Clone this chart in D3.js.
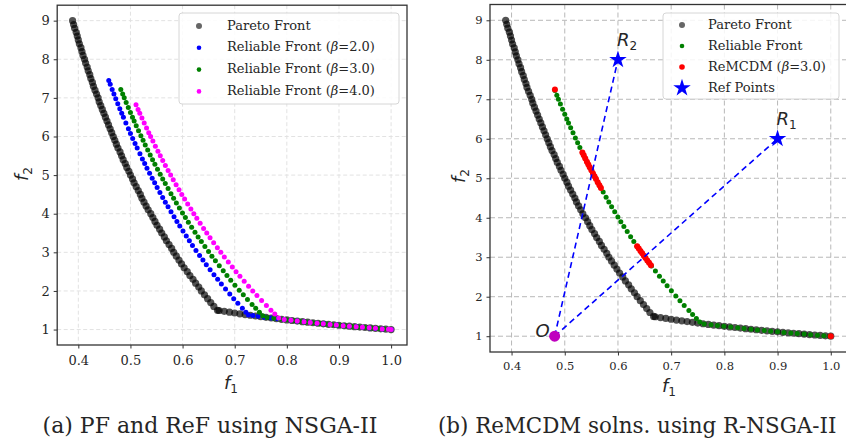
<!DOCTYPE html>
<html>
<head>
<meta charset="utf-8">
<script src="https://cdnjs.cloudflare.com/ajax/libs/d3/7.8.5/d3.min.js"></script>
<style>
  html, body { margin: 0; padding: 0; background: #fff; }
  svg { display: block; }
  text { font-family: "DejaVu Serif", serif; fill: #262626; }
  .math { font-family: "DejaVu Sans", sans-serif; font-style: italic; }
  .sub { font-style: normal; }
</style>
</head>
<body>
<svg id="chart" width="846" height="443"></svg>
<script>
// ---- data: [f1, f2] ----
const paretoFront = [
  [0.389,9.0],[0.391,8.9],[0.393,8.8],[0.396,8.7],[0.398,8.6],[0.400,8.5],[0.402,8.4],[0.405,8.3],
  [0.407,8.2],[0.409,8.1],[0.412,8.0],[0.414,7.9],[0.417,7.8],[0.419,7.7],[0.422,7.6],[0.424,7.5],
  [0.427,7.4],[0.429,7.3],[0.432,7.2],[0.435,7.1],[0.438,7.0],[0.440,6.9],[0.443,6.8],[0.446,6.7],
  [0.449,6.6],[0.452,6.5],[0.455,6.4],[0.458,6.3],[0.461,6.2],[0.464,6.1],[0.467,6.0],[0.470,5.9],
  [0.473,5.8],[0.476,5.7],[0.480,5.6],[0.483,5.5],[0.486,5.4],[0.490,5.3],[0.493,5.2],[0.497,5.1],
  [0.500,5.0],[0.504,4.9],[0.507,4.8],[0.511,4.7],[0.515,4.6],[0.519,4.5],[0.522,4.4],[0.526,4.3],
  [0.530,4.2],[0.534,4.1],[0.539,4.0],[0.543,3.9],[0.547,3.8],[0.551,3.7],[0.556,3.6],[0.560,3.5],
  [0.565,3.4],[0.569,3.3],[0.574,3.2],[0.579,3.1],[0.583,3.0],[0.588,2.9],[0.593,2.8],[0.598,2.7],
  [0.603,2.6],[0.609,2.5],[0.614,2.4],[0.620,2.3],[0.625,2.2],[0.631,2.1],[0.636,2.0],[0.642,1.9],
  [0.648,1.8],[0.654,1.7],[0.660,1.6],[0.667,1.5],
  [0.670,1.493],[0.680,1.471],[0.690,1.449],[0.700,1.429],[0.710,1.408],[0.720,1.389],[0.730,1.370],
  [0.740,1.351],[0.750,1.333],[0.760,1.316],[0.770,1.299],[0.780,1.282],[0.790,1.266],[0.800,1.250],
  [0.810,1.235],[0.820,1.220],[0.830,1.205],[0.840,1.190],[0.850,1.176],[0.860,1.163],[0.870,1.149],
  [0.880,1.136],[0.890,1.124],[0.900,1.111],[0.910,1.099],[0.920,1.087],[0.930,1.075],[0.940,1.064],
  [0.950,1.053],[0.960,1.042],[0.970,1.031],[0.980,1.020],[0.990,1.010],[1.000,1.000]
];
const reliableB2 = [
  [0.4584,7.45],[0.4612,7.35],[0.4649,7.22],[0.4683,7.10],[0.4718,6.98],[0.4757,6.85],[0.4796,6.72],
  [0.4833,6.60],[0.4865,6.50],[0.4912,6.35],[0.4961,6.20],[0.5000,6.08],[0.5043,5.95],[0.5088,5.82],
  [0.5129,5.70],[0.5182,5.55],[0.5229,5.42],[0.5273,5.30],[0.5317,5.18],[0.5367,5.05],[0.5417,4.92],
  [0.5464,4.80],[0.5512,4.68],[0.5565,4.55],[0.5618,4.42],[0.5669,4.30],[0.5721,4.18],[0.5778,4.05],
  [0.5836,3.92],[0.5891,3.80],[0.5946,3.68],[0.6008,3.55],[0.6071,3.42],[0.6130,3.30],[0.6190,3.18],
  [0.6257,3.05],[0.6326,2.92],[0.6390,2.80],[0.6455,2.68],[0.6528,2.55],[0.6602,2.42],[0.6673,2.30],
  [0.6744,2.18],[0.6824,2.05],[0.6905,1.92],[0.6981,1.80],[0.7060,1.68],[0.7147,1.55],[0.7215,1.45],
  [0.7264,1.38],[0.735,1.361],[0.745,1.342],[0.757,1.321],[0.770,1.299],[0.782,1.279],[0.795,1.258],
  [0.808,1.238],[0.820,1.220],[0.833,1.200],[0.846,1.182],[0.858,1.166],[0.871,1.148],[0.884,1.131],
  [0.896,1.116],[0.909,1.100],[0.921,1.086],[0.934,1.071],[0.946,1.057],[0.959,1.043],[0.971,1.030],
  [0.984,1.016],[1.000,1.000]
];
const reliableB3 = [
  [0.4815,7.22],[0.4851,7.10],[0.4881,7.00],[0.4918,6.88],[0.4959,6.75],[0.5000,6.62],[0.5039,6.50],
  [0.5071,6.40],[0.5111,6.28],[0.5155,6.15],[0.5200,6.02],[0.5242,5.90],[0.5284,5.78],[0.5331,5.65],
  [0.5379,5.52],[0.5424,5.40],[0.5469,5.28],[0.5519,5.15],[0.5571,5.02],[0.5619,4.90],[0.5668,4.78],
  [0.5722,4.65],[0.5777,4.52],[0.5828,4.40],[0.5881,4.28],[0.5939,4.15],[0.5998,4.02],[0.6054,3.90],
  [0.6111,3.78],[0.6174,3.65],[0.6238,3.52],[0.6298,3.40],[0.6360,3.28],[0.6428,3.15],[0.6498,3.02],
  [0.6563,2.90],[0.6630,2.78],[0.6704,2.65],[0.6780,2.52],[0.6851,2.40],[0.6924,2.28],[0.7004,2.15],
  [0.7087,2.02],[0.7165,1.90],[0.7245,1.78],[0.7333,1.65],[0.7403,1.55],[0.7474,1.45],[0.7539,1.36],
  [0.762,1.312],[0.775,1.290],[0.787,1.271],[0.799,1.252],[0.812,1.232],[0.825,1.212],[0.837,1.195],
  [0.850,1.176],[0.862,1.160],[0.875,1.143],[0.887,1.127],[0.900,1.111],[0.912,1.096],[0.925,1.081],
  [0.937,1.067],[0.950,1.053],[0.962,1.040],[0.975,1.026],[0.987,1.013],[0.998,1.002]
];
const reliableB4 = [
  [0.5107,6.82],[0.5146,6.70],[0.5179,6.60],[0.5220,6.48],[0.5264,6.35],[0.5309,6.22],[0.5351,6.10],
  [0.5387,6.00],[0.5430,5.88],[0.5478,5.75],[0.5527,5.62],[0.5572,5.50],[0.5619,5.38],[0.5670,5.25],
  [0.5722,5.12],[0.5771,5.00],[0.5821,4.88],[0.5876,4.75],[0.5932,4.62],[0.5985,4.50],[0.6039,4.38],
  [0.6098,4.25],[0.6159,4.12],[0.6215,4.00],[0.6273,3.88],[0.6337,3.75],[0.6403,3.62],[0.6464,3.50],
  [0.6527,3.38],[0.6596,3.25],[0.6667,3.12],[0.6733,3.00],[0.6801,2.88],[0.6877,2.75],[0.6954,2.62],
  [0.7026,2.50],[0.7100,2.38],[0.7182,2.25],[0.7266,2.12],[0.7345,2.00],[0.7426,1.88],[0.7516,1.75],
  [0.7608,1.62],[0.7695,1.50],[0.7769,1.40],[0.7845,1.30],
  [0.795,1.258],[0.808,1.238],[0.820,1.220],[0.833,1.200],[0.845,1.183],[0.858,1.166],[0.870,1.149],
  [0.883,1.133],[0.895,1.117],[0.908,1.101],[0.920,1.087],[0.933,1.072],[0.945,1.058],[0.958,1.044],
  [0.970,1.031],[0.983,1.017],[0.995,1.005],[1.000,1.000]
];
const remcdm = [
  [0.4815,7.25],
  [0.5331,5.65],[0.5357,5.58],[0.5386,5.50],[0.5416,5.42],[0.5443,5.35],[0.5469,5.28],[0.5500,5.20],
  [0.5531,5.12],[0.5559,5.05],[0.5587,4.98],[0.5619,4.90],[0.5651,4.82],[0.5680,4.75],
  [0.6360,3.28],[0.6391,3.22],[0.6423,3.16],[0.6455,3.10],[0.6487,3.04],[0.6519,2.98],[0.6552,2.92],
  [0.6585,2.86],[0.6619,2.80],
  [1.000,1.000]
];
const refPoints = [ {name: "R", sub: "1", f1: 0.9, f2: 6.0}, {name: "R", sub: "2", f1: 0.6, f2: 8.0} ];
const origin = {name: "O", f1: 0.481, f2: 1.0};

const xTicks = [0.4, 0.5, 0.6, 0.7, 0.8, 0.9, 1.0];
const yTicks = [1, 2, 3, 4, 5, 6, 7, 8, 9];
const xDomain = [0.3595, 1.0305];
const yDomain = [0.6, 9.4];

const svg = d3.select("#chart");

// f with an upright subscript, like matplotlib mathtext
function mathLabel(t, base, sub) {
  t.append("tspan").text(base);
  t.append("tspan").attr("class", "sub").attr("dy", 4).attr("font-size", 12).text(sub);
}

function drawPanel(box, opt) {
  const x = d3.scaleLinear().domain(xDomain).range([box.left, box.right]);
  const y = d3.scaleLinear().domain(yDomain).range([box.bottom, box.top]);
  const g = svg.append("g");

  // grid
  g.append("g").selectAll("line").data(xTicks).join("line")
    .attr("x1", d => x(d)).attr("x2", d => x(d))
    .attr("y1", box.top).attr("y2", box.bottom)
    .attr("stroke", opt.gridColor).attr("stroke-width", 1).attr("stroke-dasharray", opt.gridDash);
  g.append("g").selectAll("line").data(yTicks).join("line")
    .attr("y1", d => y(d)).attr("y2", d => y(d))
    .attr("x1", box.left).attr("x2", box.right)
    .attr("stroke", opt.gridColor).attr("stroke-width", 1).attr("stroke-dasharray", opt.gridDash);

  // axes
  const xAxis = g.append("g").attr("transform", `translate(0,${box.bottom})`)
    .call(d3.axisBottom(x).tickValues(xTicks).tickFormat(d3.format(".1f")).tickSize(3.5).tickPadding(opt.xPad));
  const yAxis = g.append("g").attr("transform", `translate(${box.left},0)`)
    .call(d3.axisLeft(y).tickValues(yTicks).tickFormat(d3.format("d")).tickSize(3.5).tickPadding(4));
  [xAxis, yAxis].forEach(a => {
    a.select(".domain").remove();
    a.selectAll(".tick line").attr("stroke", "#333");
    a.selectAll(".tick text").attr("font-family", "DejaVu Serif").attr("font-size", opt.tickSize).attr("fill", "#262626");
  });

  // axis labels
  g.append("text").attr("class", "math").attr("x", opt.xLabel[0]).attr("y", opt.xLabel[1])
    .attr("text-anchor", "middle").attr("font-size", 18)
    .call(t => mathLabel(t, "f", "1"));
  g.append("text").attr("class", "math")
    .attr("transform", `translate(${opt.yLabel[0]},${opt.yLabel[1]}) rotate(-90)`)
    .attr("text-anchor", "middle").attr("font-size", 18)
    .call(t => mathLabel(t, "f", "2"));

  const plot = g.append("g");
  return { x, y, g, plot };
}

function dots(p, data, color, r, opacity) {
  p.plot.append("g").selectAll("circle").data(data).join("circle")
    .attr("cx", d => p.x(d[0])).attr("cy", d => p.y(d[1]))
    .attr("r", r).attr("fill", color).attr("fill-opacity", opacity || 1);
}

function spines(p, box) {
  p.g.append("rect").attr("x", box.left).attr("y", box.top)
    .attr("width", box.right - box.left).attr("height", box.bottom - box.top)
    .attr("fill", "none").attr("stroke", "#333").attr("stroke-width", 1.3);
}

function legend(box, rows) {
  const lg = svg.append("g");
  lg.append("rect").attr("x", box.x).attr("y", box.y).attr("width", box.w).attr("height", box.h)
    .attr("rx", 3).attr("fill", "#fff").attr("fill-opacity", 0.85).attr("stroke", "#d6d6d6");
  rows.forEach((r, i) => {
    const cy = box.y + box.first + i * box.step;
    if (r.star) {
      lg.append("path").attr("d", d3.symbol(d3.symbolStar, 95)())
        .attr("transform", `translate(${box.mx},${cy + 1})`).attr("fill", r.color);
    } else {
      lg.append("circle").attr("cx", box.mx).attr("cy", cy + 1).attr("r", r.r).attr("fill", r.color);
    }
    const t = lg.append("text").attr("x", box.tx).attr("y", cy).attr("dy", "0.35em").attr("font-size", 13);
    t.append("tspan").text(r.label);
    if (r.beta) {
      t.append("tspan").text("(");
      t.append("tspan").attr("font-style", "italic").text("β");
      t.append("tspan").text("=" + r.beta + ")");
    }
  });
}

// ---- panel (a) ----
const boxA = {left: 57.2, right: 407, top: 5.2, bottom: 345};
const pA = drawPanel(boxA, {gridColor: "#e2e2e2", gridDash: "4,2.5", tickSize: 13, xPad: 7,
  xLabel: [231, 389], yLabel: [28, 174]});
dots(pA, paretoFront, "#000", 3.6, 0.68);
dots(pA, reliableB2, "#0000ff", 2.5);
dots(pA, reliableB3, "#008000", 2.5);
dots(pA, reliableB4, "#ff00ff", 2.5);
spines(pA, boxA);
legend({x: 179, y: 13, w: 220, h: 91, first: 12, step: 21.8, mx: 199, tx: 227}, [
  {label: "Pareto Front", color: "#666", r: 3},
  {label: "Reliable Front ", beta: "2.0", color: "#0000ff", r: 2.3},
  {label: "Reliable Front ", beta: "3.0", color: "#008000", r: 2.3},
  {label: "Reliable Front ", beta: "4.0", color: "#ff00ff", r: 2.3}
]);

// ---- panel (b) ----
const boxB = {left: 490, right: 847, top: 4.5, bottom: 352};
const pB = drawPanel(boxB, {gridColor: "#b8b8b8", gridDash: "5,3", tickSize: 11.5, xPad: 6,
  xLabel: [669, 392], yLabel: [465, 176]});
dots(pB, paretoFront, "#000", 3.6, 0.68);
dots(pB, reliableB3, "#008000", 2.5);
dots(pB, remcdm, "#ff0000", 3);

// lines from the origin to the reference points
pB.plot.append("g").selectAll("line").data(refPoints).join("line")
  .attr("x1", pB.x(origin.f1)).attr("y1", pB.y(origin.f2))
  .attr("x2", d => pB.x(d.f1)).attr("y2", d => pB.y(d.f2))
  .attr("stroke", "#0000ff").attr("stroke-width", 1.6).attr("stroke-dasharray", "6,4");
pB.plot.append("g").selectAll("path").data(refPoints).join("path")
  .attr("d", d3.symbol(d3.symbolStar, 95)())
  .attr("transform", d => `translate(${pB.x(d.f1)},${pB.y(d.f2)})`)
  .attr("fill", "#0000ff");
pB.plot.selectAll("text.ref").data(refPoints).join("text").attr("class", "ref math")
  .attr("x", d => pB.x(d.f1) - 1).attr("y", d => pB.y(d.f2) - 14)
  .attr("font-size", 18)
  .each(function(d) { mathLabel(d3.select(this), d.name, d.sub); });
pB.plot.append("circle").attr("cx", pB.x(origin.f1)).attr("cy", pB.y(origin.f2))
  .attr("r", 5.5).attr("fill", "#bf00bf");
pB.plot.append("text").attr("class", "math")
  .attr("x", pB.x(origin.f1) - 5).attr("y", pB.y(origin.f2) + 1)
  .attr("text-anchor", "end").attr("font-size", 18).text(origin.name);
spines(pB, boxB);
legend({x: 663, y: 13, w: 176, h: 86, first: 11, step: 21, mx: 682, tx: 708}, [
  {label: "Pareto Front", color: "#666", r: 3},
  {label: "Reliable Front", color: "#008000", r: 2.3},
  {label: "ReMCDM ", beta: "3.0", color: "#ff0000", r: 2.8},
  {label: "Ref Points", color: "#0000ff", star: true}
]);

// ---- captions ----
svg.append("text").attr("x", 210).attr("y", 433).attr("text-anchor", "middle")
  .attr("font-size", 22).attr("fill", "#111").text("(a) PF and ReF using NSGA-II");
svg.append("text").attr("x", 438).attr("y", 433)
  .attr("font-size", 21.4).attr("fill", "#111").text("(b) ReMCDM solns. using R-NSGA-II");
</script>
</body>
</html>
